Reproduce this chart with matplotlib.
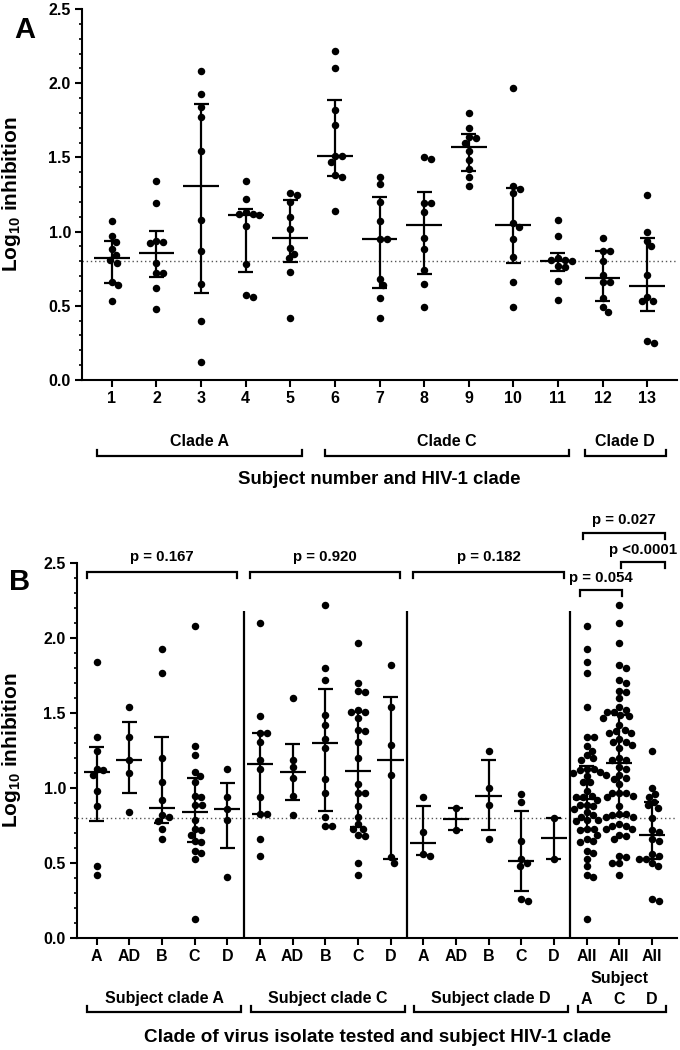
import numpy as np
import matplotlib.pyplot as plt
from matplotlib import transforms
from matplotlib.ticker import MultipleLocator, FormatStrFormatter

plt.rcParams['font.family'] = ['Liberation Sans', 'DejaVu Sans']
plt.rcParams['font.weight'] = 'bold'
plt.rcParams['mathtext.fontset'] = 'custom'
plt.rcParams['mathtext.rm'] = 'Liberation Sans:bold'
plt.rcParams['axes.linewidth'] = 1.5

W, H = 680, 1050

# ---- panel A: log10 inhibition per subject (10 isolates each)
subjects = [str(i) for i in range(1, 14)]
subj_vals = [
    [1.07, 0.97, 0.93, 0.88, 0.84, 0.81, 0.79, 0.66, 0.64, 0.53],
    [1.34, 1.19, 0.94, 0.93, 0.92, 0.79, 0.72, 0.72, 0.62, 0.48],
    [2.08, 1.93, 1.84, 1.77, 1.54, 1.08, 0.87, 0.65, 0.40, 0.12],
    [1.34, 1.22, 1.13, 1.12, 1.12, 1.11, 1.04, 0.78, 0.57, 0.56],
    [1.26, 1.25, 1.20, 1.10, 1.02, 0.89, 0.85, 0.82, 0.73, 0.42],
    [2.22, 2.10, 1.82, 1.72, 1.51, 1.51, 1.47, 1.38, 1.37, 1.14],
    [1.37, 1.32, 1.20, 1.07, 0.95, 0.95, 0.68, 0.64, 0.55, 0.42],
    [1.50, 1.49, 1.19, 1.19, 1.13, 0.96, 0.88, 0.74, 0.65, 0.49],
    [1.80, 1.70, 1.64, 1.63, 1.60, 1.54, 1.48, 1.42, 1.37, 1.31],
    [1.97, 1.31, 1.29, 1.26, 1.06, 1.03, 0.95, 0.83, 0.66, 0.49],
    [1.08, 0.97, 0.82, 0.81, 0.81, 0.80, 0.77, 0.76, 0.67, 0.54],
    [0.96, 0.87, 0.87, 0.80, 0.71, 0.66, 0.66, 0.55, 0.49, 0.46],
    [1.25, 1.00, 0.94, 0.90, 0.71, 0.56, 0.53, 0.53, 0.26, 0.25],
]
clade_groups_a = [('Clade A', 1, 5), ('Clade C', 6, 11), ('Clade D', 12, 13)]

# ---- panel B: by virus isolate clade within subject clade
virus_clades = ['A', 'AD', 'B', 'C', 'D']
subj_a = [
    [1.84, 1.34, 1.25, 1.13, 1.12, 1.09, 0.98, 0.88, 0.48, 0.42],
    [1.54, 1.34, 1.19, 1.10, 0.84],
    [1.93, 1.77, 1.20, 1.04, 0.92, 0.82, 0.81, 0.78, 0.73, 0.66],
    [2.08, 1.28, 1.22, 1.11, 1.08, 1.04, 0.95, 0.94, 0.89, 0.89,
     0.79, 0.73, 0.72, 0.69, 0.65, 0.64, 0.58, 0.57, 0.53, 0.13],
    [1.13, 0.94, 0.86, 0.79, 0.41],
]
subj_c = [
    [2.10, 1.48, 1.37, 1.37, 1.31, 1.19, 1.13, 0.94, 0.83, 0.83, 0.66, 0.55],
    [1.60, 1.19, 1.14, 1.07, 0.95, 0.82],
    [2.22, 1.80, 1.72, 1.49, 1.42, 1.33, 1.27, 1.06, 0.97, 0.81, 0.75, 0.75],
    [1.97, 1.70, 1.65, 1.64, 1.52, 1.51, 1.51, 1.47, 1.39, 1.38, 1.31, 1.20,
     1.03, 0.97, 0.97, 0.88, 0.81, 0.76, 0.73, 0.73, 0.69, 0.68, 0.50, 0.42],
    [1.82, 1.54, 1.29, 1.09, 0.54, 0.50],
]
subj_d = [
    [0.94, 0.71, 0.56, 0.55],
    [0.87, 0.72],
    [1.25, 1.00, 0.89, 0.66],
    [0.96, 0.91, 0.65, 0.53, 0.50, 0.48, 0.26, 0.25],
    [0.80, 0.53],
]
group_names_b = ['Subject clade A', 'Subject clade C', 'Subject clade D']
p_within = ['p = 0.167', 'p = 0.920', 'p = 0.182']
pooled_names = ['A', 'C', 'D']
cutoff = 0.8


def fy(y):
    return 1 - y / H


def swarm_x(ax, x0, vals, d=7.0):
    p0 = ax.transData.transform((0, 0))
    sx = ax.transData.transform((1, 0))[0] - p0[0]
    sy = ax.transData.transform((0, 1))[1] - p0[1]
    vals = np.asarray(vals, float)
    xs = np.zeros(len(vals))
    placed = []
    for i in np.argsort(vals)[::-1]:
        y = vals[i] * sy
        cands = [0.0]
        for px, py in placed:
            dy = abs(py - y)
            if dy < d:
                dx = np.sqrt(d * d - dy * dy)
                cands += [px + dx, px - dx]
        cands.sort(key=lambda c: (round(abs(c), 6), -c))
        for c in cands:
            if all((c - px) ** 2 + (y - py) ** 2 >= d * d - 1e-6 for px, py in placed):
                break
        placed.append((c, y))
        xs[i] = x0 + c / sx
    return xs


def dot_column(ax, x0, vals, med_hw, cap_hw):
    xs = swarm_x(ax, x0, vals)
    ax.plot(xs, vals, 'o', ms=5.4, color='black', mew=0, zorder=3)
    q1, med, q3 = np.percentile(vals, [25, 50, 75], method='weibull')
    kw = dict(color='black', lw=1.6, zorder=4, solid_capstyle='butt')
    ax.plot([x0, x0], [q1, q3], **kw)
    ax.plot([x0 - cap_hw, x0 + cap_hw], [q1, q1], **kw)
    ax.plot([x0 - cap_hw, x0 + cap_hw], [q3, q3], **kw)
    ax.plot([x0 - med_hw, x0 + med_hw], [med, med], **kw)


def bracket(ax, x1, x2, y, tick, lw=1.6):
    tr = transforms.blended_transform_factory(ax.transData, fig.transFigure)
    ax.plot([x1, x1, x2, x2], [fy(y + tick), fy(y), fy(y), fy(y + tick)],
            transform=tr, clip_on=False, color='black', lw=lw,
            solid_joinstyle='miter')


def label(ax, x, y, s, size=11.5):
    tr = transforms.blended_transform_factory(ax.transData, fig.transFigure)
    ax.text(x, fy(y), s, transform=tr, ha='center', va='center',
            fontsize=size, fontweight='bold')


def style_axis(ax):
    for side in ['top', 'right']:
        ax.spines[side].set_visible(False)
    ax.set_ylim(0, 2.5)
    ax.yaxis.set_major_locator(MultipleLocator(0.5))
    ax.yaxis.set_minor_locator(MultipleLocator(0.1))
    ax.yaxis.set_major_formatter(FormatStrFormatter('%.1f'))
    ax.tick_params(axis='both', which='major', direction='out', length=5,
                   width=1.5, labelsize=11.5, pad=3)
    ax.tick_params(axis='y', which='minor', direction='out', length=2.5, width=1.2)
    ax.tick_params(axis='x', which='minor', bottom=False)
    for t in ax.get_xticklabels() + ax.get_yticklabels():
        t.set_fontweight('bold')
    ax.axhline(cutoff, ls=(0, (1, 2)), color='#555555', lw=1.0, zorder=1)


fig = plt.figure(figsize=(W / 100, H / 100), dpi=100)

# ---------------- panel A
axA = fig.add_axes([82 / W, fy(380), 595 / W, 371 / H])
xa = np.arange(1, len(subjects) + 1)
axA.set_xlim(0.33, 13.67)
axA.set_xticks(xa)
axA.set_xticklabels(subjects)
style_axis(axA)
for x, v in zip(xa, subj_vals):
    dot_column(axA, x, v, med_hw=0.4, cap_hw=0.17)
axA.set_ylabel(r'Log$_{\mathrm{10}}$ inhibition', fontsize=15, fontweight='bold')
axA.yaxis.set_label_coords(-0.099, 0.5)

pads_a = [(-0.34, 0.26), (-0.22, 0.25), (-0.4, 0.42)]
for (name, s, e), (pl, pr) in zip(clade_groups_a, pads_a):
    bracket(axA, s + pl, e + pr, 456, -6)
    label(axA, (s + pl + e + pr) / 2, 442, name)
label(axA, 7.0, 480, 'Subject number and HIV-1 clade', size=13.4)
fig.text(25 / W, fy(30), 'A', fontsize=21, fontweight='bold', ha='center', va='center')

# ---------------- panel B
axB = fig.add_axes([77 / W, fy(938), 600 / W, 375 / H])
groups = [subj_a, subj_c, subj_d]
nv = len(virus_clades)
ticklabels = virus_clades * 3 + ['All'] * 3
xb = np.arange(len(ticklabels))
axB.set_xlim(-0.6, 17.77)
axB.set_xticks(xb)
axB.set_xticklabels(ticklabels)
style_axis(axB)

for g, grp in enumerate(groups):
    for j, v in enumerate(grp):
        dot_column(axB, g * nv + j, v, med_hw=0.4, cap_hw=0.23)
    pooled = np.concatenate(grp)
    dot_column(axB, 3 * nv + g, pooled, med_hw=0.4, cap_hw=0.23)

axB.vlines([nv * k - 0.5 for k in (1, 2, 3)], 0, 2.18, color='black', lw=1.6)
axB.set_ylabel(r'Log$_{\mathrm{10}}$ inhibition', fontsize=15, fontweight='bold')
axB.yaxis.set_label_coords(-0.09, 0.5)

for g, name in enumerate(group_names_b):
    s, e = g * nv, g * nv + nv - 1
    bracket(axB, s - 0.28, e + 0.43, 1012, -6)
    label(axB, (s - 0.28 + e + 0.43) / 2, 999, name)
    bracket(axB, s - 0.3, e + 0.3, 572, 6)
    label(axB, (s + e) / 2, 557, p_within[g], size=10.8)

s_all = 3 * nv
bracket(axB, s_all - 0.27, s_all + 2 + 0.43, 1012, -6)
label(axB, s_all + 1, 979, 'Subject')
for k, n in enumerate(pooled_names):
    label(axB, s_all + k, 999, n)

bracket(axB, s_all - 0.2, s_all + 1.1, 590, 6)
label(axB, s_all + 0.45, 578, 'p = 0.054', size=10.8)
bracket(axB, s_all + 1.07, s_all + 2.4, 562, 6)
label(axB, s_all + 1.73, 550, 'p <0.0001', size=10.8)
bracket(axB, s_all - 0.1, s_all + 2.4, 533, 6)
label(axB, s_all + 1.15, 520, 'p = 0.027', size=10.8)

label(axB, 8.6, 1037, 'Clade of virus isolate tested and subject HIV-1 clade', size=13.6)
fig.text(20 / W, fy(582), 'B', fontsize=21, fontweight='bold', ha='center', va='center')

fig.savefig('out.png', dpi=100)
